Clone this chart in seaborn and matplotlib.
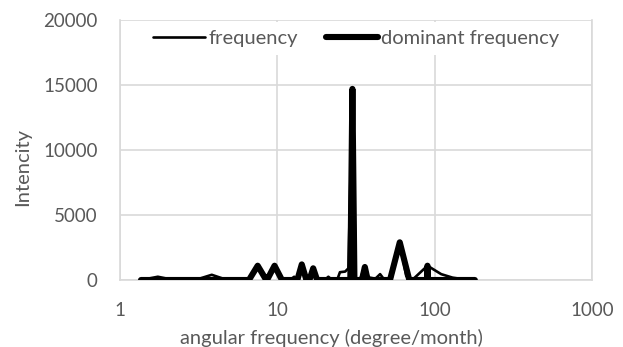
import matplotlib
matplotlib.use("Agg")
import matplotlib.pyplot as plt
import seaborn as sns
import pandas as pd

# "frequency" series (angular frequency in degree/month, intensity)
freq_x = [1.36, 1.74, 2.2, 3.0, 3.83, 4.8, 6.6, 7.5, 8.5, 9.6, 10.7, 12.0, 12.8, 13.5,
          14.3, 15.5, 16.9, 18.2, 20.0, 21.1, 22.3, 24.0, 25.0, 27.0, 28.3, 30.0, 31.5,
          33.5, 36.0, 38.0, 42.0, 45.0, 48.0, 53.0, 60.0, 66.0, 72.0, 90.0, 110.0,
          130.0, 150.0, 180.0]
freq_y = [0, 250, 0, 0, 400, 0, 0, 1100, 0, 1100, 0, 0, 250, 0,
          1200, 0, 900, 0, 0, 250, 0, 0, 600, 650, 900, 14700, 0,
          0, 1100, 200, 100, 450, 0, 0, 2900, 300, 0, 1100, 450,
          180, 70, 0]

# "dominant frequency" series
dom_x = [1.36, 6.6, 7.5, 8.5, 8.6, 9.6, 10.7, 13.4, 14.3, 15.3, 16.0, 16.9, 17.9,
         29.1, 30.0, 30.9, 34.5, 36.0, 37.5, 52.0, 60.0, 69.0, 89.6, 90.0, 90.4, 180.0]
dom_y = [0, 0, 1100, 0, 0, 1100, 0, 0, 1200, 0, 0, 900, 0,
         0, 14700, 0, 0, 1000, 0, 0, 2900, 0, 0, 1100, 0, 0]

x_ticks = [1, 10, 100, 1000]
x_tick_labels = ["1", "10", "100", "1000"]
y_ticks = [0, 5000, 10000, 15000, 20000]

sns.set_theme(style="white")
plt.rcParams["font.family"] = ["Lato", "DejaVu Sans"]

grey = "#595959"
grid = "#d9d9d9"

fig = plt.figure(figsize=(6.23, 3.47), dpi=100)
ax = fig.add_axes([120 / 623, 1 - 280 / 347, 472 / 623, 260 / 347])

df_f = pd.DataFrame({"x": freq_x, "y": freq_y})
df_d = pd.DataFrame({"x": dom_x, "y": dom_y})

sns.lineplot(data=df_d, x="x", y="y", ax=ax, color="black", linewidth=4.4,
             sort=False, label="dominant frequency", zorder=3,
             solid_capstyle="round", solid_joinstyle="round")
sns.lineplot(data=df_f, x="x", y="y", ax=ax, color="black", linewidth=1.9,
             sort=False, label="frequency", zorder=4,
             solid_joinstyle="round")

ax.set_xscale("log")
ax.set_xlim(1, 1000)
ax.set_ylim(0, 20000)
ax.set_xticks(x_ticks)
ax.set_xticklabels(x_tick_labels)
ax.minorticks_off()
ax.set_yticks(y_ticks)
ax.grid(True, which="major", color=grid, linewidth=1.2, zorder=0)
ax.set_axisbelow(True)
for side in ["left", "bottom", "right"]:
    ax.spines[side].set_color(grid)
    ax.spines[side].set_linewidth(1.2)
ax.spines["top"].set_visible(False)
ax.tick_params(axis="both", length=0, labelsize=13.5, labelcolor=grey)
ax.tick_params(axis="y", pad=16)
ax.tick_params(axis="x", pad=16)

ax.set_xlabel("angular frequency (degree/month)", fontsize=14.5, color=grey)
ax.set_ylabel("Intencity", fontsize=14.5, color=grey)
ax.xaxis.set_label_coords((331 - 120) / 472, -(338 - 280) / 260)
ax.yaxis.set_label_coords(-(120 - 23) / 472, (280 - 167) / 260)
ax.xaxis.label.set_va("center")
ax.yaxis.label.set_va("center")

handles, labels = ax.get_legend_handles_labels()
order = [labels.index("frequency"), labels.index("dominant frequency")]
leg = ax.legend([handles[i] for i in order], [labels[i] for i in order],
                loc="upper center", bbox_to_anchor=(0.5, 1.0), ncol=2,
                frameon=True, fontsize=14.5, handlelength=2.6, handletextpad=0.15,
                columnspacing=1.4, borderaxespad=0.1, fancybox=False)
leg.get_frame().set_facecolor("white")
leg.get_frame().set_edgecolor("none")
leg.get_frame().set_alpha(1)
for t in leg.get_texts():
    t.set_color(grey)
leg.set_zorder(10)

fig.savefig("out.png", dpi=100)
